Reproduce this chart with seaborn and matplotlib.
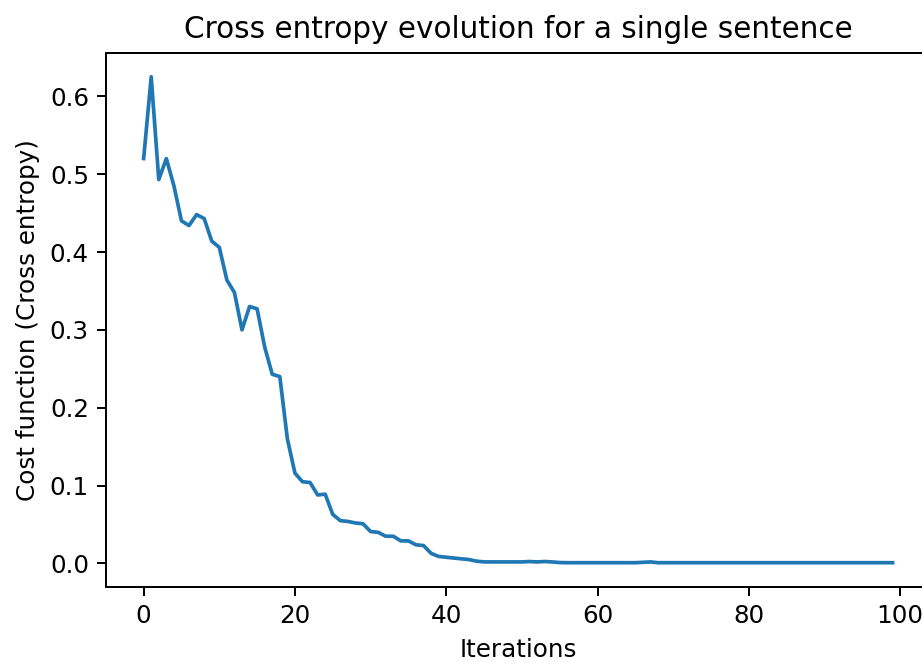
import matplotlib
matplotlib.use("Agg")
import matplotlib.pyplot as plt
import seaborn as sns
import pandas as pd

iterations = list(range(100))
cost = [
    0.520, 0.625, 0.493, 0.520, 0.485, 0.440, 0.434, 0.448, 0.443, 0.414,
    0.406, 0.364, 0.348, 0.300, 0.330, 0.327, 0.278, 0.243, 0.240, 0.160,
    0.116, 0.105, 0.104, 0.088, 0.089, 0.063, 0.055, 0.054, 0.052, 0.051,
    0.041, 0.040, 0.035, 0.035, 0.029, 0.029, 0.024, 0.023, 0.013, 0.009,
    0.008, 0.007, 0.006, 0.005, 0.003, 0.002, 0.002, 0.002, 0.002, 0.002,
    0.002, 0.0025, 0.002, 0.0025, 0.002, 0.0012, 0.001, 0.001, 0.001, 0.001,
    0.001, 0.001, 0.001, 0.001, 0.001, 0.001, 0.0015, 0.002, 0.001, 0.001,
    0.001, 0.001, 0.001, 0.001, 0.001, 0.001, 0.001, 0.001, 0.001, 0.001,
    0.001, 0.001, 0.001, 0.001, 0.001, 0.001, 0.001, 0.001, 0.001, 0.001,
    0.001, 0.001, 0.001, 0.001, 0.001, 0.001, 0.001, 0.001, 0.001, 0.001,
]
title = "Cross entropy evolution for a single sentence"
xlabel = "Iterations"
ylabel = "Cost function (Cross entropy)"

df = pd.DataFrame({"Iterations": iterations, "Cost": cost})

dpi = 177
fig = plt.figure(figsize=(922 / dpi, 662 / dpi), dpi=dpi)
W, H = 922, 662
left, right, top, bottom = 106.2, 930.0, 52.5, 587.0
ax = fig.add_axes([left / W, 1 - bottom / H, (right - left) / W, (bottom - top) / H])

sns.lineplot(data=df, x="Iterations", y="Cost", ax=ax, color="#1f77b4", linewidth=1.5)
ax.set_title(title, fontsize=12)
ax.set_xlabel(xlabel, fontsize=10)
ax.set_ylabel(ylabel, fontsize=10)
ax.set_xticks([0, 20, 40, 60, 80, 100])
ax.set_yticks([0.0, 0.1, 0.2, 0.3, 0.4, 0.5, 0.6])
ax.tick_params(labelsize=10)

fig.savefig("out.png", dpi=dpi)
